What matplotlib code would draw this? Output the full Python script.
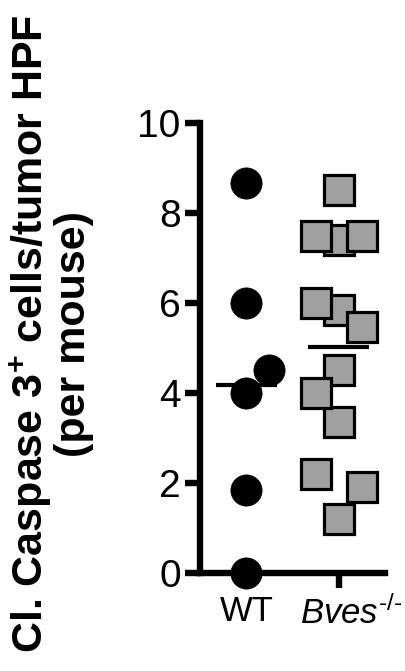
import numpy as np
import matplotlib
matplotlib.use("Agg")
import matplotlib.pyplot as plt
import matplotlib.transforms as mtransforms

plt.rcParams['font.family'] = ['Liberation Sans', 'DejaVu Sans']
plt.rcParams['mathtext.fontset'] = 'custom'
plt.rcParams['mathtext.rm'] = 'Liberation Sans'
plt.rcParams['mathtext.it'] = 'Liberation Sans:italic'
plt.rcParams['mathtext.bf'] = 'Liberation Sans:bold'

# data
groups = ['WT', '$\\mathit{Bves}^{\u2010/\u2010}$']
wt_values = [8.67, 6.0, 4.51, 4.0, 1.84, 0.0]
bves_values = [7.4, 5.84, 4.5, 3.36, 1.19, 8.51, 7.49, 7.49, 6.0, 5.47, 3.99, 2.2, 1.92]
y_ticks = [0, 2, 4, 6, 8, 10]

# horizontal scatter of the points (layout only)
wt_offsets = [0, 0, 0.25, 0, 0, 0]
bves_offsets = [0, 0, 0, 0, 0, 0, -0.25, 0.25, -0.25, 0.25, -0.25, -0.25, 0.25]

fig = plt.figure(figsize=(4.05, 6.71), dpi=100)
ax = fig.add_axes([0.494, 0.146, 0.457, 0.671])

for v, off in zip(wt_values, wt_offsets):
    ax.plot(1 + off, v, marker='o', ms=22.5, color='black', mec='black',
            mew=0.5, clip_on=False, zorder=3)
for v, off in zip(bves_values, bves_offsets):
    ax.plot(2 + off, v, marker='s', ms=22.3, color='#a0a0a0', mec='black',
            mew=2.3, clip_on=False, zorder=3)

# mean lines
ax.plot([1 - 0.33, 1 + 0.33], [np.mean(wt_values)] * 2, color='black', lw=3,
        solid_capstyle='butt', zorder=4)
ax.plot([2 - 0.33, 2 + 0.33], [np.mean(bves_values)] * 2, color='black', lw=3,
        solid_capstyle='butt', zorder=4)

ax.set_xlim(0.5, 2.5)
ax.set_ylim(0, 10)
ax.set_yticks(y_ticks)
ax.set_xticks([1, 2])
ax.set_xticklabels(groups)
for s in ['top', 'right']:
    ax.spines[s].set_visible(False)
for s in ['left', 'bottom']:
    ax.spines[s].set_linewidth(4.6)
    ax.spines[s].set_capstyle('projecting')
ax.tick_params(axis='both', length=11, width=4.6, color='black')
ax.tick_params(axis='y', labelsize=28, pad=3)
ax.tick_params(axis='x', labelsize=25, pad=5)

# the Bves label sits a little right of its tick
lbl = ax.get_xticklabels()[1]
lbl.set_transform(lbl.get_transform() +
                  mtransforms.ScaledTranslation(0.12, 0, fig.dpi_scale_trans))

fig.text(0.105, 0.502, r'Cl. Caspase 3$^{\mathbf{+}}$ cells/tumor HPF',
         rotation=90, rotation_mode='anchor', ha='center', va='baseline',
         fontsize=31, fontweight='bold')
fig.text(0.21, 0.502, '(per mouse)',
         rotation=90, rotation_mode='anchor', ha='center', va='baseline',
         fontsize=31, fontweight='bold')

fig.savefig('out.png', dpi=100)
